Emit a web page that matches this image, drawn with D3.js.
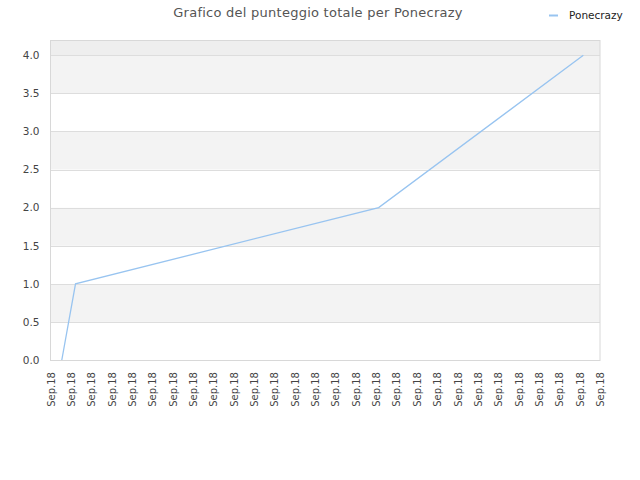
<!DOCTYPE html>
<html><head><meta charset="utf-8">
<script src="https://cdn.jsdelivr.net/npm/d3@7"></script>
<style>body{margin:0;background:#fff}</style>
</head><body>
<svg id="c" width="640" height="480"></svg>
<script>
const title = "Grafico del punteggio totale per Ponecrazy";
const seriesName = "Ponecrazy";
const dates = ["2018-09-03T13:20","2018-09-04T05:30","2018-09-19T03:00","2018-09-29T04:20"];
const values = [0, 1, 2, 4];
const yTicks = [0,0.5,1,1.5,2,2.5,3,3.5,4];
const xStart = "2018-09-03", xEnd = "2018-09-30";

const svg = d3.select("#c");
const m = {l:50.5, r:600, t:40, b:360};
const parse = d3.isoParse;
const x = d3.scaleTime().domain([parse(xStart), parse(xEnd)]).range([m.l, m.r]);
const y = d3.scaleLinear().domain([0, 4.2]).range([m.b, m.t]);

// bands
const bandEdges = [0,0.5,1,1.5,2,2.5,3,3.5,4,4.2];
for (let i=0;i<bandEdges.length-1;i++){
  let fill = (i%2===1) ? "#f3f3f3" : "#ffffff";
  if (i===bandEdges.length-2) fill = "#eeeeee";
  svg.append("rect").attr("x",m.l).attr("width",m.r-m.l)
    .attr("y",y(bandEdges[i+1])).attr("height",y(bandEdges[i])-y(bandEdges[i+1]))
    .attr("fill",fill);
}
// grid
svg.append("g").selectAll("line").data(yTicks.slice(1)).join("line")
  .attr("x1",m.l).attr("x2",m.r).attr("y1",d=>Math.round(y(d))+0.5).attr("y2",d=>Math.round(y(d))+0.5)
  .attr("stroke","#dddddd");
svg.append("rect").attr("x",m.l).attr("y",m.t+0.5).attr("width",m.r-m.l).attr("height",m.b-m.t)
  .attr("fill","none").attr("stroke","#d8d8d8");

// y axis
const ya = svg.append("g").attr("transform",`translate(${m.l},0)`)
  .call(d3.axisLeft(y).tickValues(yTicks).tickFormat(d3.format(".1f")).tickSize(0).tickPadding(11));
ya.select(".domain").remove();
ya.selectAll("text").attr("font-family","DejaVu Sans, sans-serif").attr("font-size","10.5px").attr("fill","#444");

// x axis
const xa = svg.append("g").attr("transform",`translate(0,${m.b})`)
  .call(d3.axisBottom(x).ticks(d3.timeDay.every(1)).tickFormat(d3.timeFormat("%b.%y")).tickSize(0));
xa.select(".domain").remove();
xa.selectAll("text").attr("font-family","DejaVu Sans, sans-serif").attr("font-size","10px").attr("fill","#444")
  .attr("transform","rotate(-90)").attr("text-anchor","end").attr("x",-12).attr("y",0).attr("dy","0.35em");

// line
const data = dates.map((d,i)=>({d:parse(d), v:values[i]}));
svg.append("path").datum(data).attr("fill","none").attr("stroke","#98c4f0").attr("stroke-width",1.3)
  .attr("d", d3.line().x(d=>x(d.d)).y(d=>y(d.v)));

// title
svg.append("text").attr("x",318).attr("y",17).attr("text-anchor","middle").attr("letter-spacing","0.25px")
  .attr("font-family","DejaVu Sans, sans-serif").attr("font-size","13px").attr("fill","#555").text(title);
// legend
svg.append("line").attr("x1",549).attr("x2",558).attr("y1",15.5).attr("y2",15.5).attr("stroke","#98c4f0").attr("stroke-width",2);
svg.append("text").attr("x",569).attr("y",19).attr("font-family","DejaVu Sans, sans-serif").attr("font-size","10.5px").attr("fill","#222").text(seriesName);
</script>
</body></html>
